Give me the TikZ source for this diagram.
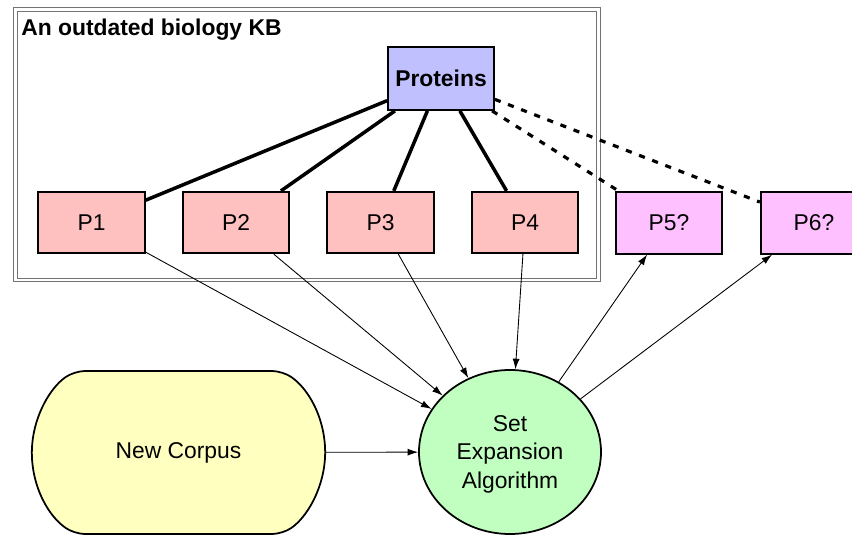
\documentclass[tikz,border=0pt]{standalone}
\usepackage{fontspec}
\setmainfont{Liberation Sans}
\usepackage{tikz}
\usetikzlibrary{arrows.meta,shapes.geometric,shapes.misc}
\definecolor{lila}{RGB}{192,192,255}
\definecolor{rosa}{RGB}{255,192,192}
\definecolor{malva}{RGB}{255,192,255}
\definecolor{verde}{RGB}{192,255,192}
\definecolor{crema}{RGB}{255,255,192}
\definecolor{gray45}{gray}{.45}

\begin{document}
\begin{tikzpicture}[
        font=\fontsize{13}{16}\selectfont,
        caja/.style={draw, line width=1pt, minimum width=2.13cm, minimum height=1.23cm, inner sep=1pt},
        viejo/.style={caja, fill=rosa},
        nuevo/.style={caja, fill=malva},
        rama/.style={line width=2pt},
        hueco/.style={line width=1.8pt, dash pattern=on 3.5pt off 4.5pt},
        flecha/.style={-{Latex[length=6pt, width=4pt]}, line width=0.5pt}
    ]
        \useasboundingbox (0, 0) rectangle (17.04, 10.68);
        % base de conocimiento
        \node (kb) [draw=gray45, double, double distance=1.3pt, line width=0.6pt,
            minimum width=11.66cm, minimum height=5.41cm, inner sep=0pt] at (6.14, 7.785) {};
        \node (titulo) [anchor=base west, inner sep=0pt, font=\fontsize{13}{16}\selectfont\bfseries]
            at (0.42, 9.96) {An outdated biology KB};
        % nodos
        \node (prot) [caja, fill=lila, minimum width=2.12cm, minimum height=1.26cm,
            font=\fontsize{13}{16}\selectfont\bfseries] at (8.82, 9.11) {Proteins};
        \node (p1) [viejo] at (1.83, 6.23)  {P1};
        \node (p2) [viejo] at (4.72, 6.23)  {P2};
        \node (p3) [viejo] at (7.61, 6.23)  {P3};
        \node (p4) [viejo] at (10.50, 6.23) {P4};
        \node (p5) [nuevo] at (13.38, 6.22) {P5?};
        \node (p6) [nuevo] at (16.28, 6.22) {P6?};
        \node (alg) [draw, ellipse, fill=verde, line width=1pt, minimum width=3.64cm,
            minimum height=3.28cm, inner sep=0pt, text depth=0pt, align=center] at (10.2, 1.64)
            {Set\\Expansion\\Algorithm};
        \node (corpus) [draw, rounded rectangle, rounded rectangle arc length=110, rounded corners=6pt,
            fill=crema, line width=1pt, minimum width=6.1cm, minimum height=3.26cm] at (3.57, 1.63) {New Corpus};
        % ramas de la jerarquia
        \draw[rama] (prot) -- (p1);
        \draw[rama] (prot) -- (p2);
        \draw[rama] (prot) -- (p3);
        \draw[rama] (prot) -- (p4);
        % miembros por descubrir
        \draw[hueco] (prot) -- (p5);
        \draw[hueco] (prot) -- (p6);
        % semillas
        \draw[flecha] (p1) -- (alg);
        \draw[flecha] (p2) -- (alg);
        \draw[flecha] (p3) -- (alg);
        \draw[flecha] (p4) -- (alg);
        \draw[flecha] (corpus) -- (alg);
        % salida
        \draw[flecha] (alg) -- (p5);
        \draw[flecha] (alg) -- (p6);
    \end{tikzpicture}
\end{document}
